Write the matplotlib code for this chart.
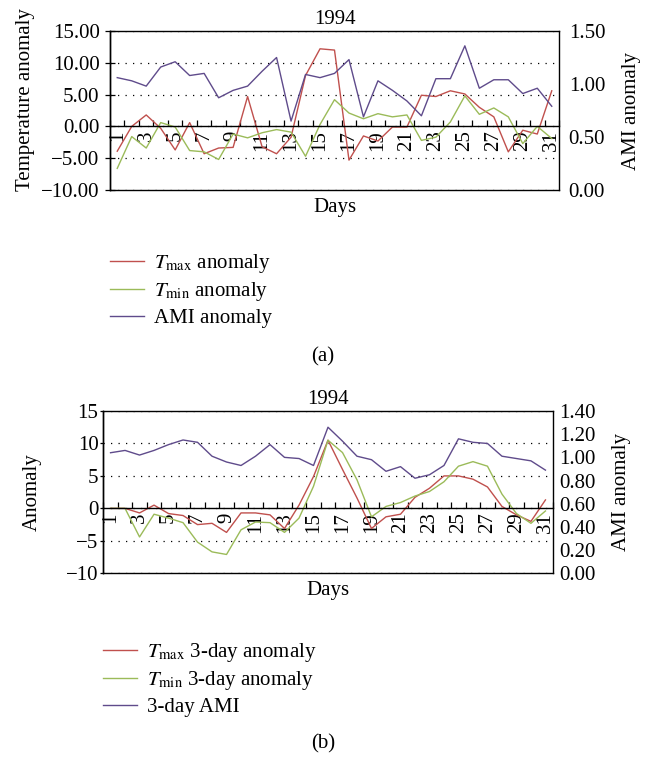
import numpy as np
import matplotlib.pyplot as plt
from matplotlib.ticker import FuncFormatter, MultipleLocator

plt.rcParams['font.family'] = ['Liberation Serif', 'DejaVu Serif']
plt.rcParams['mathtext.fontset'] = 'stix'
plt.rcParams['font.size'] = 15

# data
days = list(range(1, 32))

tmax_daily = [-3.9, 0.0, 1.8, -0.3, -3.7, 0.6, -4.3, -3.4, -3.3, 4.7, -3.2, -4.3, -1.7, 8.0, 12.2,
              12.0, -5.3, -1.5, -2.3, -0.1, -0.1, 4.9, 4.7, 5.6, 5.1, 3.0, 1.5, -4.0, -0.6, -1.2, 5.6]
tmin_daily = [-6.6, -1.6, -3.4, 0.6, -0.1, -3.8, -4.0, -5.2, -1.2, -1.8, -1.0, -0.5, -0.9, -4.7, 0.3,
              4.2, 2.1, 1.2, 2.0, 1.5, 1.8, -2.2, -1.7, 0.7, 4.8, 1.9, 2.9, 1.5, -2.7, 0.0, -1.9]
ami_daily = [1.06, 1.03, 0.98, 1.16, 1.21, 1.08, 1.10, 0.87, 0.94, 0.98, 1.12, 1.25, 0.65, 1.09, 1.06,
             1.10, 1.23, 0.69, 1.03, 0.94, 0.84, 0.70, 1.05, 1.05, 1.36, 0.96, 1.04, 1.04, 0.91, 0.96, 0.79]

tmax_3day = [0.0, 0.0, -0.7, 0.5, -0.8, -1.1, -2.5, -2.3, -3.7, -0.7, -0.7, -1.0, -3.1, 0.5, 4.9,
             10.5, 6.0, 1.6, -3.1, -1.3, -0.9, 1.7, 3.1, 5.0, 5.0, 4.5, 3.3, 0.3, -1.0, -2.0, 1.3]
tmin_3day = [0.0, 0.0, -4.4, -0.9, -1.5, -2.2, -5.2, -6.7, -7.1, -3.3, -2.1, -2.2, -3.7, -1.5, 3.4,
             10.5, 8.6, 4.4, -1.3, 0.3, 0.9, 1.9, 2.6, 4.1, 6.5, 7.2, 6.5, 2.2, -0.8, -2.3, -0.4]
ami_3day = [1.04, 1.06, 1.02, 1.06, 1.11, 1.15, 1.13, 1.01, 0.96, 0.93, 1.01, 1.11, 1.00, 0.99, 0.93,
            1.26, 1.14, 1.01, 0.98, 0.88, 0.92, 0.82, 0.85, 0.93, 1.16, 1.13, 1.12, 1.01, 0.99, 0.97, 0.89]

red = '#c0504d'
green = '#9bbb59'
purple = '#5f4b8b'
dots = (0, (1, 5))


def minus(fmt):
    return FuncFormatter(lambda v, p: fmt.format(v).replace('-', '\u2212'))


def panel(rect, tmax, tmin, ami, left_fmt, ami_top, ami_step, left_label, lab_x, lab_y, rlab_x,
          left_tick, left_pad, right_pad, labels):
    ax = fig.add_axes(rect)
    ax.plot(days, tmax, color=red, lw=1.0, label=labels[0])
    ax.plot(days, tmin, color=green, lw=1.0, label=labels[1])
    ax.set_xlim(0.5, 31.5)
    ax.set_ylim(-10, 15)
    ax.yaxis.set_major_locator(MultipleLocator(5))
    ax.yaxis.set_major_formatter(minus(left_fmt))
    ax.grid(axis='y', color='black', linestyle=dots, lw=0.9)
    ax.tick_params(axis='y', direction=left_tick[0], length=left_tick[1], width=0.9, pad=left_pad)

    # category axis crosses at zero, labels hang below it
    ax.spines['bottom'].set_position(('data', 0))
    ax.spines['top'].set_visible(False)
    ax.spines['right'].set_visible(False)
    ax.set_xticks(days[::2])
    ax.set_xticklabels([str(d) for d in days[::2]], rotation=90)
    ax.set_xticks(np.arange(0.5, 32, 1), minor=True)
    ax.tick_params(axis='x', which='major', length=0, pad=3)
    ax.tick_params(axis='x', which='minor', direction='in', length=4, width=0.9)
    ax.set_title('1994', fontsize=15, pad=5)
    ax.text(0.5, -0.05, 'Days', transform=ax.transAxes, ha='center', va='top')
    ax.set_ylabel(left_label)
    ax.yaxis.set_label_coords(lab_x, lab_y)

    ax2 = ax.twinx()
    ax2.plot(days, ami, color=purple, lw=1.0, label=labels[2])
    ax2.set_ylim(0, ami_top)
    ax2.yaxis.set_major_locator(MultipleLocator(ami_step))
    ax2.yaxis.set_major_formatter(minus('{:.2f}'))
    ax2.tick_params(axis='y', length=0, pad=right_pad)
    ax2.set_ylabel('AMI anomaly')
    ax2.yaxis.set_label_coords(rlab_x, 0.5)
    for ax_ in (ax, ax2):
        for s in ax_.spines.values():
            s.set_linewidth(1.0)
    return ax, ax2


fig = plt.figure(figsize=(6.51, 7.59), dpi=100)

a1, a2 = panel([110 / 651, 1 - 190 / 759, 449 / 651, 159 / 759],
               tmax_daily, tmin_daily, ami_daily, '{:.2f}', 1.5, 0.5,
               'Temperature anomaly', -0.167, 0.57, 1.14, ('inout', 7), 4, 7,
               [r'$T_{\mathrm{max}}$ anomaly', r'$T_{\mathrm{min}}$ anomaly', 'AMI anomaly'])
h = a1.get_legend_handles_labels()[0] + a2.get_legend_handles_labels()[0]
fig.legend(handles=h, loc='upper left', bbox_to_anchor=(110 / 651, 1 - 252 / 759),
           frameon=False, borderpad=0, borderaxespad=0, handlelength=1.65,
           handletextpad=0.45, labelspacing=0.25)
fig.text(323 / 651, 1 - 357 / 759, '(a)', ha='center', va='center')

b1, b2 = panel([103.3 / 651, 1 - 573.3 / 759, 449.4 / 651, 162.3 / 759],
               tmax_3day, tmin_3day, ami_3day, '{:.0f}', 1.4, 0.2,
               'Anomaly', -0.136, 0.5, 1.132, ('out', 2.5), 1, 5,
               [r'$T_{\mathrm{max}}$ 3-day anomaly', r'$T_{\mathrm{min}}$ 3-day anomaly', '3-day AMI'])
h = b1.get_legend_handles_labels()[0] + b2.get_legend_handles_labels()[0]
fig.legend(handles=h, loc='upper left', bbox_to_anchor=(103 / 651, 1 - 641 / 759),
           frameon=False, borderpad=0, borderaxespad=0, handlelength=1.65,
           handletextpad=0.45, labelspacing=0.25)
fig.text(323 / 651, 1 - 744 / 759, '(b)', ha='center', va='center')

fig.savefig('out.png', dpi=100)
